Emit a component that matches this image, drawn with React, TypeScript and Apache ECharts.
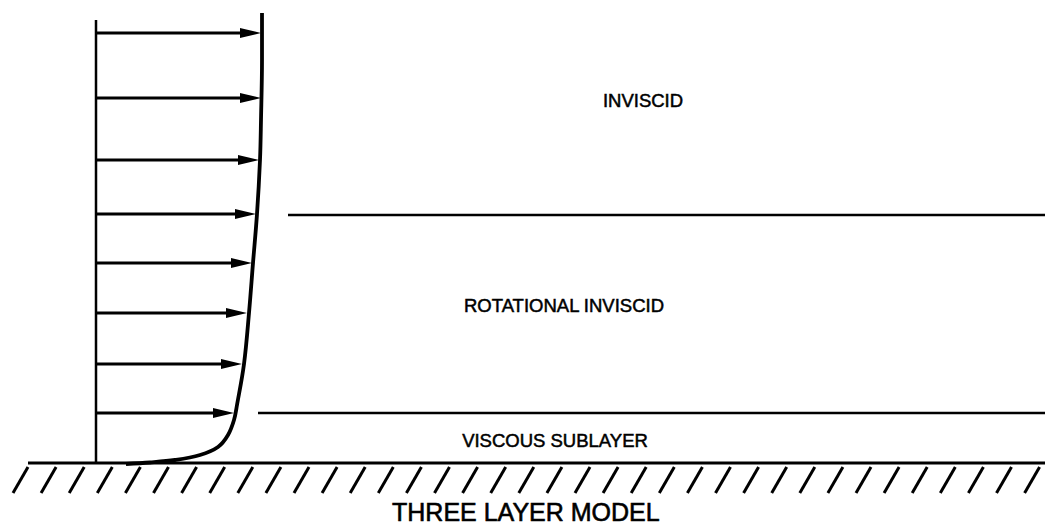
import React, { useEffect, useRef } from "react";
import * as echarts from "echarts";

// Velocity profile (u = velocity, h = height above wall), schematic units
const profileVelocity = [166, 166, 165, 164, 161, 157, 153, 148, 141, 138, 132, 122, 104, 79, 54, 30];
const profileHeight = [450, 403, 343, 303, 249, 200, 150, 99, 58, 43, 28, 16, 8, 3, 0.5, -1];

// Velocity arrows
const arrowHeight = [430, 365, 303, 249, 200, 150, 99, 50];
const arrowVelocity = [165, 165, 163, 160, 156, 151, 146, 138];

// Layer boundaries and labels
const boundaryHeight = [248, 50];
const boundaryStart = [192, 162];
const layerNames = ["INVISCID", "ROTATIONAL INVISCID", "VISCOUS SUBLAYER"];
const layerLabelU = [547, 468, 459];
const layerLabelH = [363, 158, 23];

const chartTitle = "THREE LAYER MODEL";

const FONT = "'Liberation Sans', Arial, Helvetica, sans-serif";

export default function App() {
  const ref = useRef<HTMLDivElement>(null);
  useEffect(() => {
    if (!ref.current) return;
    const chart = echarts.init(ref.current, null, { renderer: "svg" });

    const xMin = -96;
    const xMax = 949;
    const groundStart = -68;
    const hatchStep = 28.1;
    const hatchCount = 37;
    const hatchData: number[][] = [];
    for (let i = 0; i < hatchCount; i++) hatchData.push([groundStart + i * hatchStep]);

    const profile = profileVelocity.map((u, i) => [u, profileHeight[i]]);
    const arrows = arrowVelocity.map((u, i) => [u, arrowHeight[i]]);
    const labels = layerNames.map((n, i) => [layerLabelU[i], layerLabelH[i], n]);

    const lineSeries = (data: number[][], width: number) => ({
      type: "line",
      data,
      symbol: "none",
      silent: true,
      lineStyle: { color: "#000", width },
    });

    chart.setOption({
      animation: false,
      backgroundColor: "#fff",
      title: {
        text: chartTitle,
        left: 392,
        top: 499,
        padding: 0,
        textStyle: {
          fontFamily: FONT,
          fontSize: 25,
          fontWeight: "normal",
          color: "#000",
          textBorderColor: "#000",
          textBorderWidth: 0.6,
        },
      },
      grid: { left: 0, right: 0, top: 0, bottom: 0 },
      xAxis: { type: "value", min: xMin, max: xMax, show: false },
      yAxis: { type: "value", min: -65, max: 463, show: false },
      series: [
        // wall-normal axis
        lineSeries([[0, 0], [0, 443]], 2.5),
        // ground
        lineSeries([[groundStart, 0], [xMax, 0]], 3),
        // layer boundaries
        ...boundaryHeight.map((h, i) => lineSeries([[boundaryStart[i], h], [xMax, h]], 2.5)),
        // profile
        {
          type: "line",
          data: profile,
          symbol: "none",
          smooth: 0.35,
          silent: true,
          lineStyle: { color: "#000", width: 3.8 },
        },
        // arrows
        {
          type: "custom",
          data: arrows,
          silent: true,
          renderItem: (params: any, api: any) => {
            const s = api.coord([0, api.value(1)]);
            const e = api.coord([api.value(0), api.value(1)]);
            return {
              type: "group",
              children: [
                {
                  type: "line",
                  shape: { x1: s[0], y1: s[1], x2: e[0] - 14, y2: e[1] },
                  style: { stroke: "#000", lineWidth: 2.8 },
                },
                {
                  type: "polygon",
                  shape: {
                    points: [
                      [e[0], e[1]],
                      [e[0] - 21, e[1] - 5],
                      [e[0] - 21, e[1] + 5],
                    ],
                  },
                  style: { fill: "#000" },
                },
              ],
            };
          },
        },
        // ground hatching
        {
          type: "custom",
          data: hatchData,
          silent: true,
          renderItem: (params: any, api: any) => {
            const u = api.value(0);
            const a = api.coord([u, -4]);
            const b = api.coord([u - 15, -30]);
            return {
              type: "line",
              shape: { x1: a[0], y1: a[1], x2: b[0], y2: b[1] },
              style: { stroke: "#000", lineWidth: 3 },
            };
          },
        },
        // layer labels
        {
          type: "custom",
          data: labels,
          silent: true,
          renderItem: (params: any, api: any) => {
            const p = api.coord([api.value(0), api.value(1)]);
            return {
              type: "text",
              x: p[0],
              y: p[1],
              style: {
                text: layerNames[params.dataIndex],
                fontFamily: FONT,
                fontSize: 18.5,
                fill: "#000",
                stroke: "#000",
                lineWidth: 0.5,
                align: "center",
                verticalAlign: "middle",
              },
            };
          },
        },
      ],
    });
    return () => chart.dispose();
  }, []);

  return (
    <div
      ref={ref}
      style={{ position: "fixed", left: 0, top: 0, width: 1045, height: 528, background: "#fff" }}
    />
  );
}
